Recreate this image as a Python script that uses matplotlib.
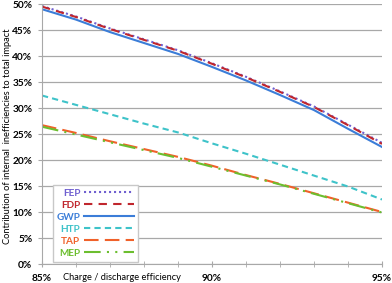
import matplotlib

matplotlib.use("Agg")
import matplotlib.pyplot as plt
from matplotlib.ticker import MultipleLocator, FuncFormatter

plt.rcParams["font.family"] = ["Lato", "DejaVu Sans"]

# Données (rendement en %, contribution en %)
efficiency = [85, 86, 87, 88, 89, 90, 91, 92, 93, 94, 95]
fep = [49.6, 47.6, 45.3, 43.2, 41.1, 38.6, 36.0, 33.2, 30.3, 26.8, 23.3]
fdp = [49.5, 47.5, 45.2, 43.1, 41.0, 38.5, 35.9, 33.1, 30.2, 26.7, 23.1]
gwp = [49.0, 47.0, 44.6, 42.5, 40.4, 37.9, 35.3, 32.5, 29.6, 26.0, 22.5]
htp = [32.4, 30.6, 28.8, 27.0, 25.3, 23.2, 21.2, 19.1, 17.0, 14.9, 12.4]
tap = [26.7, 25.2, 23.6, 22.1, 20.6, 18.9, 17.1, 15.4, 13.6, 11.8, 10.0]
mep = [26.4, 24.9, 23.4, 21.9, 20.4, 18.7, 17.0, 15.3, 13.5, 11.7, 9.9]

series = [
    ("FEP", fep, "#6F5FD0", (0, (1, 1.4))),
    ("FDP", fdp, "#C0262D", (0, (4, 3))),
    ("GWP", gwp, "#3B7DD8", "-"),
    ("HTP", htp, "#3EC3C9", (0, (3, 2))),
    ("TAP", tap, "#F0612A", (0, (7, 3))),
    ("MEP", mep, "#6CBE2F", (0, (8, 3, 1, 3, 1, 3))),
]

fig = plt.figure(figsize=(3.92, 2.83), dpi=100)
ax = fig.add_axes([42 / 392, 19 / 283, 340 / 392, 260 / 283])

for name, vals, color, ls in series:
    ax.plot(efficiency, vals, color=color, linestyle=ls, lw=1.5, label=name)

ax.set_xlim(85, 95)
ax.set_ylim(0, 50)
ax.yaxis.set_major_locator(MultipleLocator(5))
ax.xaxis.set_major_locator(MultipleLocator(5))
ax.xaxis.set_minor_locator(MultipleLocator(1))
ax.yaxis.set_major_formatter(FuncFormatter(lambda v, _: f"{v:.0f}%"))
ax.xaxis.set_major_formatter(FuncFormatter(lambda v, _: f"{v:.0f}%"))
ax.grid(axis="y", color="#A8A8A8", lw=0.9)
ax.set_axisbelow(True)
for side in ("top", "right"):
    ax.spines[side].set_visible(False)
for side in ("left", "bottom"):
    ax.spines[side].set_color("#A8A8A8")
ax.tick_params(axis="y", length=3, color="#A8A8A8", labelsize=7.3, pad=4)
ax.tick_params(axis="x", which="both", direction="inout", length=5,
               color="#A8A8A8", labelsize=7.3, pad=5)
for lab in ax.get_xticklabels() + ax.get_yticklabels():
    lab.set_fontweight("bold")

fig.text(8 / 392, 1 - 136 / 283,
         "Contribution of internal  inefficiencies to total impact",
         rotation=90, ha="center", va="center", fontsize=6.7)
fig.text(122 / 392, 1 - 277 / 283, "Charge / discharge efficiency",
         ha="center", va="center", fontsize=6.7)

leg = ax.legend(loc="lower left", bbox_to_anchor=(0.031, 0.009), borderaxespad=0,
                markerfirst=False, handlelength=5.0, fontsize=7.2, frameon=True,
                fancybox=False, edgecolor="#C8C8C8", framealpha=1,
                labelspacing=0.3, handletextpad=0.4, borderpad=0.4)
for text, (_, _, color, _) in zip(leg.get_texts(), series):
    text.set_color(color)
    text.set_fontweight("bold")

fig.savefig("out.png", dpi=100)
